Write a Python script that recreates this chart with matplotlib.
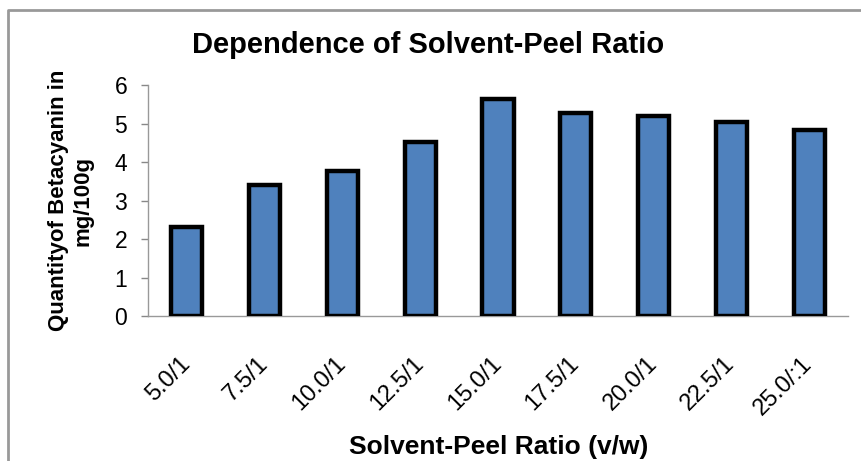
import matplotlib
matplotlib.use("Agg")
import matplotlib.pyplot as plt
from matplotlib.lines import Line2D

categories = ["5.0/1", "7.5/1", "10.0/1", "12.5/1", "15.0/1", "17.5/1", "20.0/1", "22.5/1", "25.0/:1"]
values = [2.31, 3.39, 3.77, 4.53, 5.63, 5.27, 5.20, 5.03, 4.83]
yticks = [0, 1, 2, 3, 4, 5, 6]

plt.rcParams['font.family'] = ['Liberation Sans', 'DejaVu Sans']

fig = plt.figure(figsize=(8.61, 4.61), dpi=100)
ax = fig.add_axes([148/861, 1-316/461, 700/861, 231/461])

x = list(range(len(categories)))
ax.bar(x, values, width=0.4, color="#4F81BD", edgecolor="black", linewidth=3.2, zorder=3)
ax.set_xlim(-0.5, len(categories) - 0.5)
ax.set_ylim(0, 6)
ax.set_yticks(yticks)
ax.set_yticklabels([str(t) for t in yticks], fontsize=16.5)
ax.set_xticks(x)
ax.set_xticklabels(categories, rotation=45, ha="right", va="center", rotation_mode="anchor", fontsize=17)
ax.tick_params(axis="x", length=0, pad=32)
ax.tick_params(axis="y", length=5, color="#888888", width=1, pad=10)

for s in ["top", "right"]:
    ax.spines[s].set_visible(False)
for s in ["left", "bottom"]:
    ax.spines[s].set_color("#999999")
    ax.spines[s].set_linewidth(1)

fig.text(428/861, 1-45/461, "Dependence of Solvent-Peel Ratio", fontsize=21, fontweight="bold",
         ha="center", va="center")
ax.set_ylabel("Quantityof Betacyanin in\nmg/100g", fontsize=16, fontweight="bold", linespacing=1.2)
ax.yaxis.set_label_coords(-0.078, 0.5)
fig.text(499/861, 1-447/461, "Solvent-Peel Ratio (v/w)", fontsize=19, fontweight="bold", ha="center", va="center")

# outer chart border (partially visible)
fig.add_artist(Line2D([8/861, 8/861, 1.0], [0.0, 1-10/461, 1-10/461], transform=fig.transFigure,
                      color="#999999", linewidth=2))

fig.savefig("out.png", dpi=100, facecolor="white")
